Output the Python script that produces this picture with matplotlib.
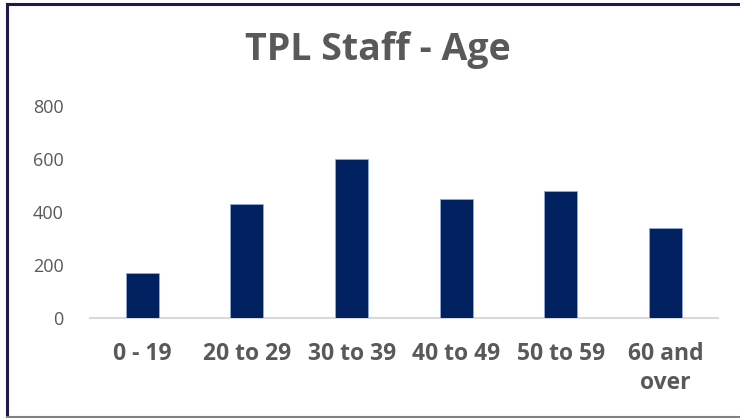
import matplotlib
matplotlib.use('Agg')
import matplotlib.pyplot as plt
import numpy as np

categories = ['0 - 19', '20 to 29', '30 to 39', '40 to 49', '50 to 59', '60 and\nover']
staff = [170, 430, 600, 450, 480, 340]
yticks = [0, 200, 400, 600, 800]

plt.rcParams['font.family'] = ['Open Sans', 'DejaVu Sans']
text_grey = '#595959'
navy = '#002060'

fig = plt.figure(figsize=(7.4, 4.18), dpi=100)
ax = fig.add_axes([0.1216, 0.2392, 0.8484, 0.5072])

x = np.arange(len(categories))
ax.bar(x, staff, width=0.315, color=navy, edgecolor='#8faadc', linewidth=0.6, zorder=3)

ax.set_xlim(-0.5, len(categories) - 0.5)
ax.set_ylim(0, 800)
ax.set_yticks(yticks)
ax.set_yticklabels([str(v) for v in yticks], fontsize=13, color=text_grey)
ax.set_xticks(x)
ax.set_xticklabels(categories, fontsize=16.5, color=text_grey, fontweight='bold',
                   linespacing=1.3, va='top')
ax.tick_params(axis='x', length=0, pad=17)
ax.tick_params(axis='y', length=0, pad=19)

for s in ['top', 'right', 'left']:
    ax.spines[s].set_visible(False)
ax.spines['bottom'].set_color('#d9d9d9')
ax.spines['bottom'].set_linewidth(1.5)

fig.text(0.511, 0.88, 'TPL Staff - Age', ha='center', va='center',
         fontsize=27, fontweight='bold', color=text_grey)

# frame around chart
fig.add_artist(plt.Line2D([7 / 740, 1], [1 - 4 / 418, 1 - 4 / 418], color='#1e1a4d', lw=2.2,
                          transform=fig.transFigure))
fig.add_artist(plt.Line2D([7 / 740, 7 / 740], [1 / 418, 1 - 4 / 418], color='#1e1a4d', lw=2.2,
                          transform=fig.transFigure))
fig.add_artist(plt.Line2D([7 / 740, 1], [1.5 / 418, 1.5 / 418], color='#808080', lw=1.5,
                          transform=fig.transFigure))

fig.savefig('out.png', dpi=100)
